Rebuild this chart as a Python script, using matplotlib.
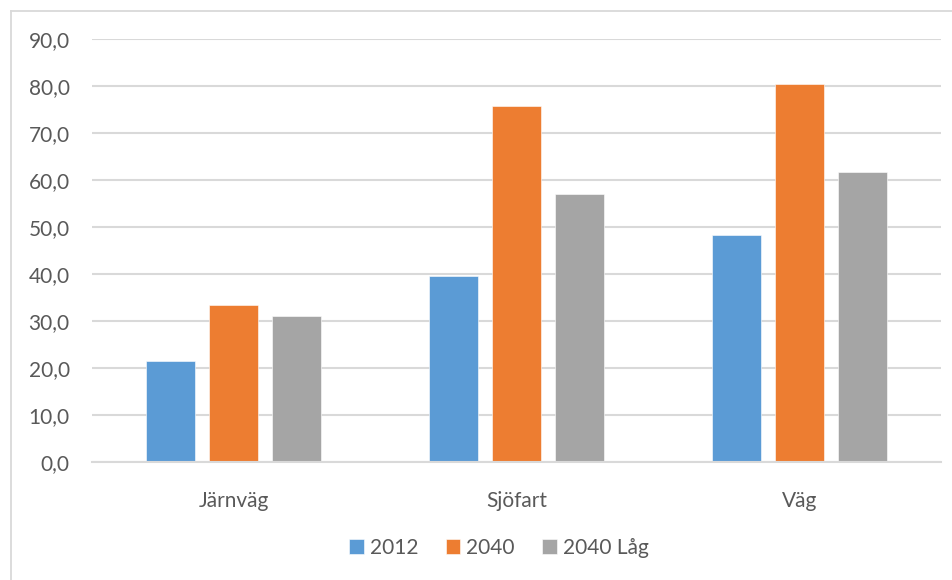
import matplotlib
matplotlib.use("Agg")
import matplotlib.pyplot as plt
from matplotlib.lines import Line2D
import numpy as np

plt.rcParams['font.family'] = ['Lato', 'DejaVu Sans']

categories = ["Järnväg", "Sjöfart", "Väg"]
series_names = ["2012", "2040", "2040 Låg"]
values_2012 = [21.5, 39.5, 48.2]
values_2040 = [33.3, 75.7, 80.4]
values_2040_lag = [31.0, 57.1, 61.7]
y_ticks = [0, 10, 20, 30, 40, 50, 60, 70, 80, 90]
y_tick_labels = ["0,0", "10,0", "20,0", "30,0", "40,0", "50,0", "60,0", "70,0", "80,0", "90,0"]

colors = ["#5b9bd5", "#ed7d31", "#a5a5a5"]
text_color = "#595959"
grid_color = "#d9d9d9"

W, H = 953, 580
fig = plt.figure(figsize=(W / 100, H / 100), dpi=100)
ax = fig.add_axes([92 / W, 1 - 462 / H, (941 - 92) / W, (462 - 39) / H])

x = np.arange(len(categories))
bar_w = 0.173
step = 0.223
for i, (vals, name) in enumerate(zip([values_2012, values_2040, values_2040_lag], series_names)):
    ax.bar(x + (i - 1) * step, vals, width=bar_w, color=colors[i], label=name,
           edgecolor="white", linewidth=0.4, zorder=3)

ax.set_xlim(-0.5, len(categories) - 0.5)
ax.set_ylim(0, 90)
ax.set_yticks(y_ticks)
ax.set_yticklabels(y_tick_labels)
ax.set_xticks(x)
ax.set_xticklabels(categories)
ax.tick_params(axis='both', length=0, labelsize=15, colors=text_color)
ax.tick_params(axis='y', pad=16)
ax.tick_params(axis='x', pad=21)

ax.grid(axis='y', color=grid_color, linewidth=1.5, zorder=0)
for s in ['top', 'right', 'left']:
    ax.spines[s].set_visible(False)
ax.spines['bottom'].set_color(grid_color)
ax.spines['bottom'].set_linewidth(1.5)
ax.spines['bottom'].set_zorder(4)

# outer chart frame (top and left edges)
fig.add_artist(Line2D([10.5 / W, 10.5 / W], [0, 1 - 10.5 / H], transform=fig.transFigure,
                      color=grid_color, linewidth=1.3))
fig.add_artist(Line2D([10.5 / W, 1], [1 - 10.5 / H, 1 - 10.5 / H], transform=fig.transFigure,
                      color=grid_color, linewidth=1.3))

leg = fig.legend(loc='center', bbox_to_anchor=(499 / W, 1 - 548 / H), ncol=3, frameon=False,
                 handlelength=0.7, handleheight=0.7, handletextpad=0.3, columnspacing=1.3,
                 fontsize=15)
for t in leg.get_texts():
    t.set_color(text_color)

fig.savefig("out.png", dpi=100, facecolor="white")
